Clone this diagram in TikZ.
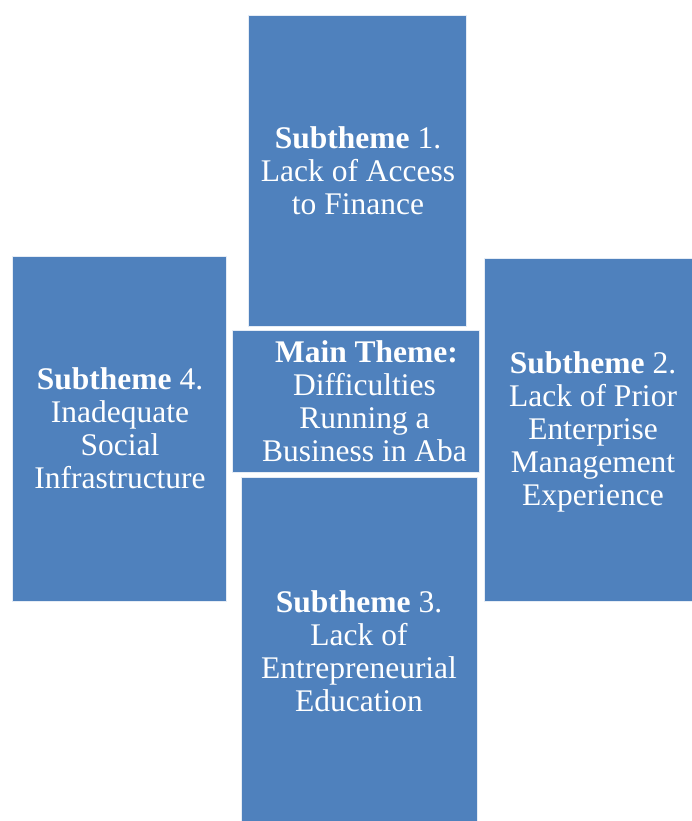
\documentclass[tikz,border=0pt]{standalone}
\usepackage{fontspec}
\setmainfont{Liberation Serif}
\definecolor{themeblue}{HTML}{4F81BD}
\begin{document}
\begin{tikzpicture}[x=1pt,y=-1pt,
  panel/.style={fill=themeblue,draw=white!85!themeblue,line width=0.6pt,inner sep=0pt,outer sep=0pt},
  caption/.style={text=white,align=center,inner sep=0pt,font=\fontsize{31.5}{33}\selectfont}]
\useasboundingbox[fill=white] (0,0) rectangle (691,821);

% the five panels
\node[panel,minimum width=218pt,minimum height=311pt] (top)    at (357,170.5) {};
\node[panel,minimum width=214pt,minimum height=345pt] (left)   at (119,428.5) {};
\node[panel,minimum width=208pt,minimum height=343pt] (right)  at (588,429.5) {};
\node[panel,minimum width=236pt,minimum height=345pt] (bottom) at (359,649.5) {};
\node[panel,minimum width=247pt,minimum height=142pt] (main)   at (355.5,401) {};

% their texts
\node[caption] (toptext) at ([xshift=1pt,yshift=0pt]top.center)
  {\textbf{Subtheme} 1.\\Lack of Access\\to Finance};
\node[caption] (lefttext) at ([xshift=1pt,yshift=0pt]left.center)
  {\textbf{Subtheme} 4.\\Inadequate\\Social\\Infrastructure};
\node[caption] (righttext) at ([xshift=5pt,yshift=-2.5pt]right.center)
  {\textbf{Subtheme} 2.\\Lack of Prior\\Enterprise\\Management\\Experience};
\node[caption] (bottomtext) at ([xshift=0pt,yshift=-1.5pt]bottom.center)
  {\textbf{Subtheme} 3.\\Lack of\\Entrepreneurial\\Education};
\node[caption] (maintext) at ([xshift=9pt,yshift=0pt]main.center)
  {\hspace*{4pt}\textbf{Main Theme:}\\Difficulties\\Running a\\Business in Aba};
\end{tikzpicture}
\end{document}
